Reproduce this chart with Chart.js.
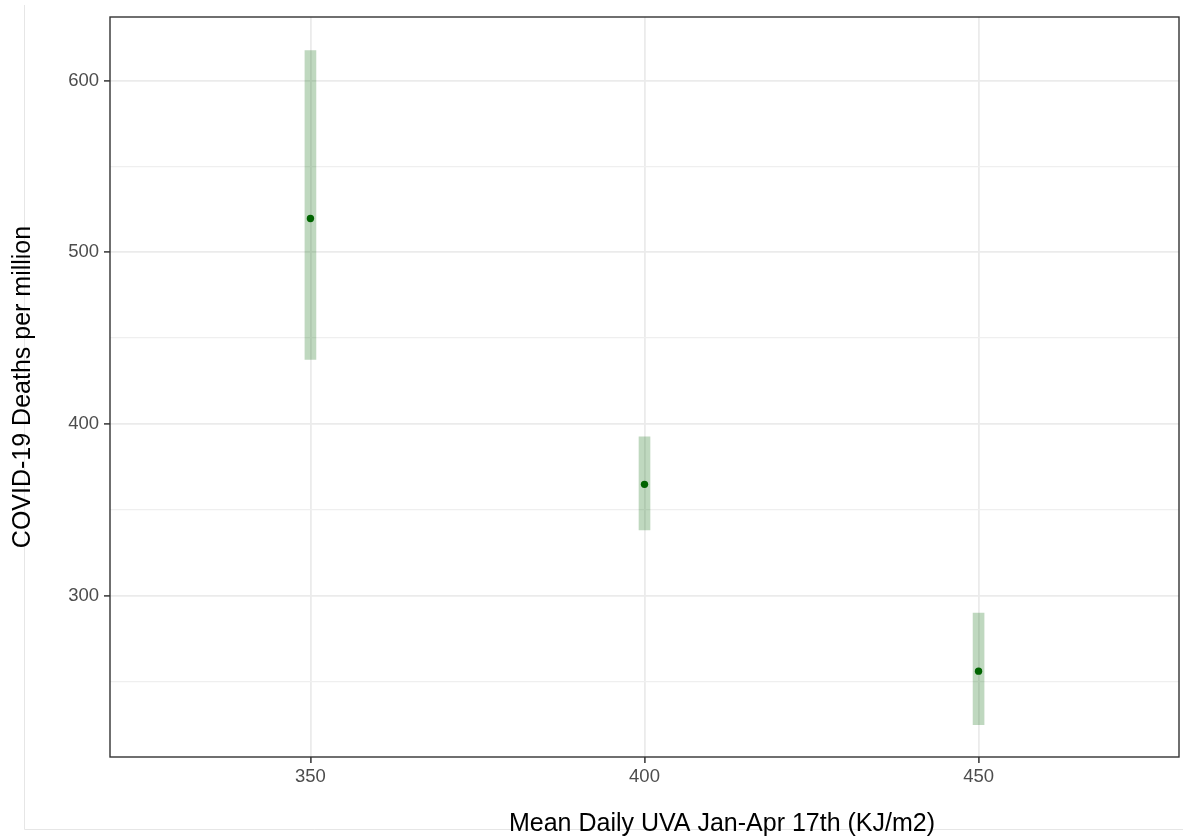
<!DOCTYPE html>
<html>
<head>
<meta charset="utf-8">
<script src="https://cdn.jsdelivr.net/npm/chart.js@4.4.1/dist/chart.umd.min.js"></script>
<style>
  html, body { margin: 0; padding: 0; background: #ffffff; }
  #wrap { position: relative; width: 1183px; height: 840px; }
</style>
</head>
<body>
<div id="wrap"><canvas id="c"></canvas></div>
<script>
// ---- data ----
const uva = [350, 400, 450];
const deaths = [519.6, 364.8, 256.0];
const lower = [437.5, 338.3, 224.8];
const upper = [617.5, 392.5, 289.8];
const xTicks = [350, 400, 450];
const yTicks = [250, 300, 350, 400, 450, 500, 550, 600];
const yMajor = [300, 400, 500, 600];
const xTitle = 'Mean Daily UVA Jan-Apr 17th (KJ/m2)';
const yTitle = 'COVID-19 Deaths per million';

const FONT = '"Liberation Sans", Arial, Helvetica, sans-serif';

const framePlugin = {
  id: 'frame',
  beforeDraw(chart) {
    const ctx = chart.ctx;
    ctx.save();
    ctx.strokeStyle = '#e6e6e6';
    ctx.lineWidth = 1;
    ctx.beginPath();
    ctx.moveTo(24.5, 5);
    ctx.lineTo(24.5, 829.5);
    ctx.lineTo(1183, 829.5);
    ctx.stroke();
    ctx.restore();
  },
  afterDraw(chart) {
    const ctx = chart.ctx;
    const a = chart.chartArea;
    ctx.save();
    ctx.strokeStyle = '#333333';
    ctx.lineWidth = 1.4;
    ctx.strokeRect(a.left, a.top, a.right - a.left, a.bottom - a.top);
    ctx.fillStyle = '#000000';
    ctx.font = '25px ' + FONT;
    ctx.textAlign = 'center';
    ctx.textBaseline = 'alphabetic';
    ctx.fillText(xTitle, 722, 831);
    ctx.restore();
  }
};

new Chart(document.getElementById('c'), {
  type: 'scatter',
  data: {
    datasets: [
      {
        type: 'scatter',
        label: 'mean',
        data: uva.map((x, i) => ({ x: x, y: deaths[i] })),
        backgroundColor: '#006400',
        borderWidth: 0,
        pointRadius: 3.7,
        order: 0
      },
      {
        type: 'bar',
        label: 'range',
        data: uva.map((x, i) => ({ x: x, y: [lower[i], upper[i]] })),
        backgroundColor: 'rgba(0,100,0,0.25)',
        borderWidth: 0,
        barThickness: 11,
        order: 1
      }
    ]
  },
  options: {
    responsive: true,
    maintainAspectRatio: false,
    animation: false,
    layout: { padding: { top: 17, right: 4, bottom: 0, left: 0 } },
    plugins: { legend: { display: false }, tooltip: { enabled: false } },
    scales: {
      x: {
        type: 'linear',
        min: 320,
        max: 480,
        offset: false,
        afterBuildTicks: s => { s.ticks = xTicks.map(v => ({ value: v })); },
        afterFit: s => { s.height = 83; },
        border: { display: false },
        grid: {
          offset: false,
          color: '#ebebeb',
          lineWidth: 1.8,
          drawTicks: true,
          tickLength: 6,
          tickColor: '#333333',
          tickWidth: 1.5
        },
        ticks: {
          color: '#4d4d4d',
          font: { family: FONT, size: 18.5 },
          padding: 3,
          maxRotation: 0,
          callback: v => String(v)
        },
        title: { display: false }
      },
      y: {
        type: 'linear',
        min: 206,
        max: 637,
        afterBuildTicks: s => { s.ticks = yTicks.map(v => ({ value: v })); },
        afterFit: s => { s.width = 110; },
        border: { display: false },
        grid: {
          color: c => yMajor.includes(c.tick && c.tick.value) ? '#ebebeb' : '#efefef',
          lineWidth: c => yMajor.includes(c.tick && c.tick.value) ? 1.8 : 1.2,
          drawTicks: true,
          tickLength: 6,
          tickColor: c => yMajor.includes(c.tick && c.tick.value) ? '#333333' : 'rgba(0,0,0,0)',
          tickWidth: 1.5
        },
        ticks: {
          color: '#4d4d4d',
          font: { family: FONT, size: 18.5 },
          padding: 5,
          callback: v => yMajor.includes(v) ? String(v) : ''
        },
        title: {
          display: true,
          text: yTitle,
          color: '#000000',
          font: { family: FONT, size: 25 },
          padding: { top: 8, bottom: 0 }
        }
      }
    }
  },
  plugins: [framePlugin]
});
</script>
</body>
</html>
